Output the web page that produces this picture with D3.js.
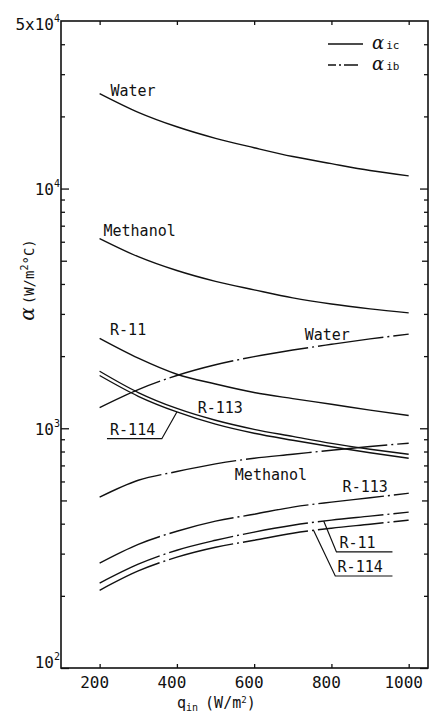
<!DOCTYPE html>
<html>
<head>
<meta charset="utf-8">
<script src="https://cdn.jsdelivr.net/npm/d3@7"></script>
<style>
  body { margin: 0; background: #fff; }
  svg { display: block; }
  .lbl { font-family: "DejaVu Sans Mono", monospace; font-size: 15px; fill: #111; }
</style>
</head>
<body>
<script>
// heat flux q_in (W/m2)
const qIn = [200, 300, 400, 500, 600, 700, 800, 900, 1000];

// alpha_ic (solid)
const icWater    = [24900, 20800, 18100, 16200, 14800, 13600, 12700, 11900, 11300];
const icMethanol = [6190, 5200, 4550, 4100, 3780, 3500, 3300, 3150, 3030];
const icR11      = [2370, 1960, 1680, 1530, 1410, 1330, 1260, 1190, 1130];
const icR113     = [1730, 1410, 1210, 1080, 990, 925, 865, 818, 779];
const icR114     = [1660, 1360, 1170, 1040, 953, 891, 837, 791, 750];

// alpha_ib (dash-dot)
const ibWater    = [1220, 1450, 1660, 1840, 1990, 2120, 2240, 2360, 2470];
const ibMethanol = [516, 607, 660, 710, 750, 779, 810, 840, 866];
const ibR113     = [274, 328, 372, 410, 438, 469, 492, 513, 536];
const ibR11      = [226, 271, 310, 341, 369, 394, 414, 430, 447];
const ibR114     = [211, 254, 290, 319, 341, 365, 383, 398, 414];

const xTicks = [200, 400, 600, 800, 1000];
const yLabelTicks = [100, 1000, 10000, 50000];
const yLabelBase = ["10", "10", "10", "5x10"];
const yLabelExp = ["2", "3", "4", "4"];

const W = 434, H = 716;
const svg = d3.select("body").append("svg").attr("width", W).attr("height", H);

const x = d3.scaleLinear().domain([100, 1050]).range([61, 428]);
const y = d3.scaleLog().domain([100, 50000]).range([668, 21]);

// ticks
let decades = [100, 1000, 10000];
let fives = [500, 5000];
let minors = [];
[100, 1000, 10000].forEach(d => {
    for (let k = 2; k <= 9; k++) {
        if (k !== 5 && k * d < 50000) minors.push(k * d);
    }
});

function yTicks(axisFn, xpos, vals, len) {
    svg.append("g")
        .attr("transform", `translate(${xpos},0)`)
        .call(axisFn(y).tickValues(vals).tickSize(-len).tickFormat(""))
        .call(g => g.select(".domain").remove())
        .selectAll("line").attr("stroke", "#111").attr("stroke-width", 1.3);
}
yTicks(d3.axisLeft, x.range()[0], decades, 8);
yTicks(d3.axisLeft, x.range()[0], fives, 6);
yTicks(d3.axisLeft, x.range()[0], minors, 4);
yTicks(d3.axisRight, x.range()[1], decades, 8);
yTicks(d3.axisRight, x.range()[1], fives, 6);
yTicks(d3.axisRight, x.range()[1], minors, 4);

svg.append("g")
    .attr("transform", `translate(0,${y.range()[0]})`)
    .call(d3.axisBottom(x).tickValues(xTicks).tickSize(-4).tickFormat(""))
    .call(g => g.select(".domain").remove())
    .selectAll("line").attr("stroke", "#111").attr("stroke-width", 1.3);
svg.append("g")
    .attr("transform", `translate(0,${y.range()[1]})`)
    .call(d3.axisTop(x).tickValues(xTicks).tickSize(-4).tickFormat(""))
    .call(g => g.select(".domain").remove())
    .selectAll("line").attr("stroke", "#111").attr("stroke-width", 1.3);

// frame
svg.append("rect")
    .attr("x", x.range()[0]).attr("y", y.range()[1])
    .attr("width", x.range()[1] - x.range()[0])
    .attr("height", y.range()[0] - y.range()[1])
    .attr("fill", "none").attr("stroke", "#111").attr("stroke-width", 1.6);

// x tick labels
svg.append("g").selectAll("text").data(xTicks).enter().append("text")
    .attr("class", "lbl")
    .attr("x", d => x(d) - 5)
    .attr("y", 688)
    .attr("text-anchor", "middle")
    .style("font-size", "16px")
    .text(d => d);

// y tick labels
const yOff = [0, 7, 6, 9];
yLabelTicks.forEach((v, i) => {
    let t = svg.append("text").attr("class", "lbl")
        .attr("x", 60).attr("y", y(v) + yOff[i])
        .attr("text-anchor", "end")
        .style("font-size", "16px");
    t.append("tspan").text(yLabelBase[i]);
    t.append("tspan").attr("dy", -8).style("font-size", "10px").text(yLabelExp[i]);
});

// x title
let xt = svg.append("text").attr("class", "lbl").attr("x", 177).attr("y", 708)
    .style("font-size", "15px");
xt.append("tspan").text("q");
xt.append("tspan").attr("dy", 3).style("font-size", "10px").text("in");
xt.append("tspan").attr("dy", -3).attr("dx", 7).text("(W/m");
xt.append("tspan").attr("dy", -5).style("font-size", "9px").text("2");
xt.append("tspan").attr("dy", 5).text(")");

// y title
let yt = svg.append("text").attr("class", "lbl")
    .attr("transform", "translate(34,280) rotate(-90)")
    .attr("text-anchor", "middle")
    .style("font-size", "14px");
yt.append("tspan").style("font-family", "DejaVu Serif").style("font-style", "italic")
    .style("font-size", "20px").text("α");
yt.append("tspan").attr("dx", 3).text("(W/m");
yt.append("tspan").attr("dy", -6).style("font-size", "10px").text("2");
yt.append("tspan").attr("dy", 6).text("°C)");

// curves
const line = d3.line()
    .x((d, i) => x(qIn[i]))
    .y(d => y(d))
    .curve(d3.curveMonotoneX);

const solid = [icWater, icMethanol, icR11, icR113, icR114];
const dashdot = [ibWater, ibMethanol, ibR113, ibR11, ibR114];

svg.append("g").selectAll("path").data(solid).enter().append("path")
    .attr("d", line)
    .attr("fill", "none").attr("stroke", "#111").attr("stroke-width", 1.4);

svg.append("g").selectAll("path").data(dashdot).enter().append("path")
    .attr("d", line)
    .attr("fill", "none").attr("stroke", "#111").attr("stroke-width", 1.4)
    .attr("stroke-dasharray", "66,4,2,4");

// curve labels (q, alpha)
const notes = [
    ["Water", 228, 24400],
    ["Methanol", 210, 6350],
    ["R-11", 227, 2441],
    ["Water", 731, 2326],
    ["R-113", 454, 1155],
    ["R-114", 227, 935],
    ["Methanol", 550, 607],
    ["R-113", 829, 541],
    ["R-11", 821, 316],
    ["R-114", 816, 251]
];
svg.append("g").selectAll("text").data(notes).enter().append("text")
    .attr("class", "lbl")
    .attr("x", d => x(d[1]))
    .attr("y", d => y(d[2]))
    .text(d => d[0]);

// leader lines: polyline points in (q, alpha)
const leaders = [
    [[219, 905], [361, 905], [400, icR114[2]]],
    [[958, 305], [813, 305], [780, 410]],
    [[958, 242], [810, 242], [754, 375]]
];
leaders.forEach(l => {
    svg.append("path")
        .attr("d", d3.line()(l.map(p => [x(p[0]), y(p[1])])))
        .attr("fill", "none").attr("stroke", "#111").attr("stroke-width", 1.2);
});

// legend
const legend = [["ic", null], ["ib", "8,3,2,3,14"]];
legend.forEach((d, i) => {
    let ly = 44 + i * 21;
    svg.append("line")
        .attr("x1", 328).attr("x2", 363).attr("y1", ly).attr("y2", ly)
        .attr("stroke", "#111").attr("stroke-width", 1.4)
        .attr("stroke-dasharray", d[1]);
    let t = svg.append("text").attr("x", 372).attr("y", ly + 5);
    t.append("tspan").style("font-family", "DejaVu Serif").style("font-style", "italic")
        .style("font-size", "18px").attr("fill", "#111").text("α");
    t.append("tspan").attr("dx", 2).style("font-family", "DejaVu Sans Mono")
        .style("font-size", "11px").attr("fill", "#111").text(d[0]);
});
</script>
</body>
</html>
